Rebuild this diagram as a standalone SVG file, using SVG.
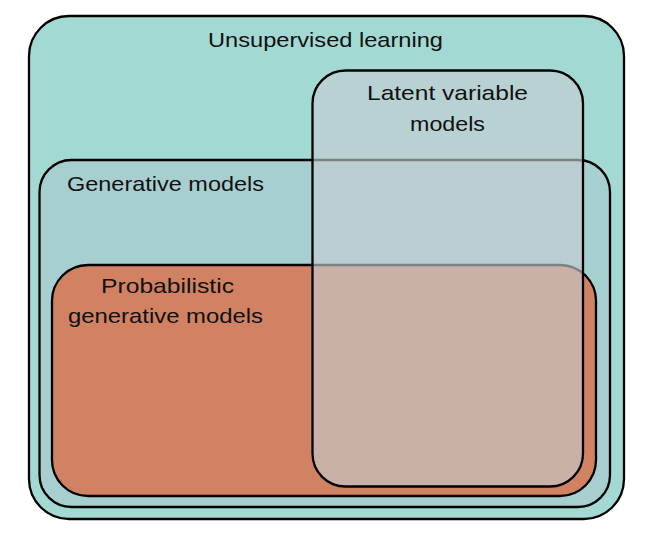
<svg xmlns="http://www.w3.org/2000/svg" width="650" height="538" viewBox="0 0 650 538">
<style>
.box{stroke:#000;stroke-width:2.3}
.lbl{font-family:"Liberation Sans","DejaVu Sans",sans-serif;font-size:21px;fill:#111;text-anchor:middle}
</style>
<rect width="650" height="538" fill="#fff"/>
<g id="unsupervised">
<rect class="box" x="29" y="16" width="595" height="503" rx="40" fill="#a2dad3"/>
<text class="lbl" x="325.5" y="47" textLength="235" lengthAdjust="spacingAndGlyphs">Unsupervised learning</text>
</g>
<g id="generative">
<rect class="box" x="39.5" y="160" width="570.5" height="347" rx="32" fill="#a8cfcf"/>
<text class="lbl" x="165.5" y="191" textLength="197" lengthAdjust="spacingAndGlyphs">Generative models</text>
</g>
<g id="probabilistic">
<rect class="box" x="52" y="265" width="544" height="231" rx="36" fill="#d08263"/>
<text class="lbl" x="167.5" y="293" textLength="133" lengthAdjust="spacingAndGlyphs">Probabilistic</text>
<text class="lbl" x="165.5" y="323" textLength="195" lengthAdjust="spacingAndGlyphs">generative models</text>
</g>
<g id="latent">
<rect class="box" x="312.5" y="70.5" width="270.5" height="416" rx="33" fill="#c5cdd1" fill-opacity="0.63"/>
<text class="lbl" x="447.5" y="100" textLength="161" lengthAdjust="spacingAndGlyphs">Latent variable</text>
<text class="lbl" x="447.5" y="131" textLength="75" lengthAdjust="spacingAndGlyphs">models</text>
</g>
<g id="connectors"/>
</svg>
